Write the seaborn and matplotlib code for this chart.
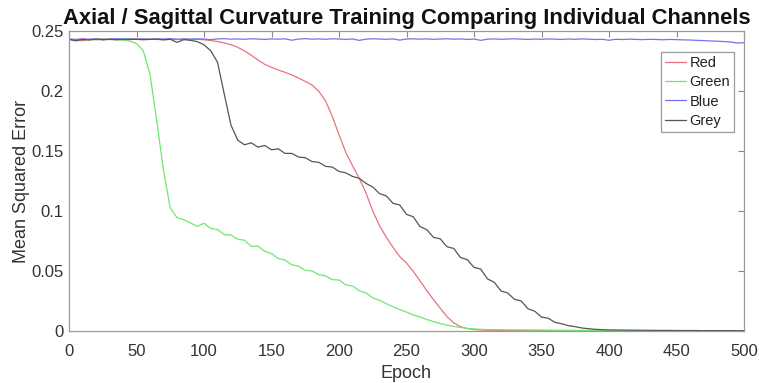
import matplotlib
matplotlib.use("Agg")
import matplotlib.pyplot as plt
import numpy as np
import pandas as pd
import seaborn as sns

# ---------------- data ----------------
epochs = list(range(0, 501, 5))

red = [0.2430, 0.2424, 0.2418, 0.2432, 0.2427, 0.2433, 0.2429, 0.2431, 0.2426, 0.2432,
       0.2430, 0.2428, 0.2433, 0.2430, 0.2427, 0.2431, 0.2429, 0.2432, 0.2430, 0.2431,
       0.2427, 0.2421, 0.2412, 0.2401, 0.2386, 0.2364, 0.2335, 0.2298, 0.2258, 0.2222,
       0.2197, 0.2175, 0.2156, 0.2134, 0.2108, 0.2080, 0.2050, 0.1998, 0.1918, 0.1790,
       0.1635, 0.1490, 0.1378, 0.1272, 0.1150, 0.1000, 0.0878, 0.0782, 0.0698, 0.0620,
       0.0566, 0.0497, 0.0418, 0.0336, 0.0262, 0.0190, 0.0120, 0.0068, 0.0036, 0.0020,
       0.0012, 0.0008, 0.0006, 0.0005, 0.0005, 0.0005, 0.0004, 0.0004, 0.0004, 0.0004,
       0.0004, 0.0003, 0.0003, 0.0003, 0.0003, 0.0003, 0.0003, 0.0003, 0.0003, 0.0003,
       0.0003, 0.0003, 0.0002, 0.0002, 0.0002, 0.0002, 0.0002, 0.0002, 0.0002, 0.0002,
       0.0002, 0.0002, 0.0002, 0.0002, 0.0002, 0.0002, 0.0002, 0.0002, 0.0002, 0.0002,
       0.0002]

green = [0.2428, 0.2422, 0.2432, 0.2426, 0.2431, 0.2424, 0.2430, 0.2427, 0.2425, 0.2416,
         0.2396, 0.2335, 0.2140, 0.1750, 0.1340, 0.1025, 0.0945, 0.0928, 0.0900, 0.0872,
         0.0898, 0.0855, 0.0846, 0.0803, 0.0800, 0.0765, 0.0756, 0.0705, 0.0708, 0.0664,
         0.0646, 0.0604, 0.0592, 0.0552, 0.0540, 0.0506, 0.0500, 0.0470, 0.0460, 0.0428,
         0.0425, 0.0385, 0.0375, 0.0335, 0.0318, 0.0276, 0.0256, 0.0228, 0.0202, 0.0178,
         0.0158, 0.0134, 0.0118, 0.0096, 0.0078, 0.0062, 0.0049, 0.0038, 0.0030, 0.0022,
         0.0017, 0.0014, 0.0012, 0.0011, 0.0010, 0.0010, 0.0009, 0.0009, 0.0008, 0.0008,
         0.0007, 0.0007, 0.0006, 0.0006, 0.0006, 0.0005, 0.0005, 0.0005, 0.0005, 0.0004,
         0.0004, 0.0004, 0.0004, 0.0004, 0.0003, 0.0003, 0.0003, 0.0003, 0.0003, 0.0003,
         0.0003, 0.0003, 0.0002, 0.0002, 0.0002, 0.0002, 0.0002, 0.0002, 0.0002, 0.0002,
         0.0002]

blue = [0.2433, 0.2430, 0.2435, 0.2431, 0.2434, 0.2429, 0.2433, 0.2436, 0.2431, 0.2434,
        0.2432, 0.2435, 0.2430, 0.2434, 0.2433, 0.2436, 0.2431, 0.2434, 0.2432, 0.2435,
        0.2433, 0.2428, 0.2434, 0.2436, 0.2432, 0.2434, 0.2431, 0.2435, 0.2433, 0.2430,
        0.2434, 0.2432, 0.2435, 0.2423, 0.2433, 0.2436, 0.2432, 0.2434, 0.2431, 0.2435,
        0.2433, 0.2430, 0.2434, 0.2422, 0.2432, 0.2435, 0.2433, 0.2431, 0.2434, 0.2424,
        0.2433, 0.2435, 0.2432, 0.2434, 0.2431, 0.2433, 0.2435, 0.2432, 0.2434, 0.2430,
        0.2433, 0.2422, 0.2432, 0.2434, 0.2431, 0.2433, 0.2435, 0.2432, 0.2430, 0.2433,
        0.2431, 0.2434, 0.2432, 0.2430, 0.2433, 0.2431, 0.2434, 0.2432, 0.2429, 0.2431,
        0.2423, 0.2431, 0.2429, 0.2432, 0.2430, 0.2428, 0.2431, 0.2429, 0.2427, 0.2430,
        0.2428, 0.2426, 0.2425, 0.2422, 0.2420, 0.2417, 0.2415, 0.2412, 0.2408, 0.2400,
        0.2402]

grey = [0.2432, 0.2418, 0.2430, 0.2425, 0.2433, 0.2428, 0.2431, 0.2427, 0.2432, 0.2429,
        0.2431, 0.2428, 0.2430, 0.2432, 0.2427, 0.2431, 0.2405, 0.2428, 0.2422, 0.2412,
        0.2385, 0.2335, 0.2240, 0.1975, 0.1715, 0.1590, 0.1552, 0.1568, 0.1532, 0.1546,
        0.1510, 0.1518, 0.1480, 0.1480, 0.1450, 0.1444, 0.1412, 0.1406, 0.1372, 0.1366,
        0.1330, 0.1318, 0.1288, 0.1272, 0.1230, 0.1200, 0.1145, 0.1126, 0.1064, 0.1050,
        0.0972, 0.0952, 0.0870, 0.0845, 0.0780, 0.0768, 0.0702, 0.0688, 0.0612, 0.0595,
        0.0530, 0.0516, 0.0434, 0.0406, 0.0334, 0.0316, 0.0264, 0.0250, 0.0185, 0.0165,
        0.0116, 0.0106, 0.0072, 0.0060, 0.0044, 0.0036, 0.0025, 0.0019, 0.0014, 0.0011,
        0.0009, 0.0008, 0.0008, 0.0007, 0.0007, 0.0006, 0.0006, 0.0005, 0.0005, 0.0005,
        0.0004, 0.0004, 0.0004, 0.0004, 0.0003, 0.0003, 0.0003, 0.0003, 0.0003, 0.0003,
        0.0003]

channels = ["Red", "Green", "Blue", "Grey"]
series = [red, green, blue, grey]
colors = {"Red": "#ec717e", "Green": "#6ee86e", "Blue": "#7373ee", "Grey": "#555555"}

xticks = list(range(0, 501, 50))
yticks = [0, 0.05, 0.1, 0.15, 0.2, 0.25]
ytick_labels = ["0", "0.05", "0.1", "0.15", "0.2", "0.25"]

title = "Axial / Sagittal Curvature Training Comparing Individual Channels"

# ---------------- plot ----------------
sns.set_theme(style="white")
plt.rcParams["font.family"] = ["Liberation Sans", "DejaVu Sans"]

df = pd.concat(
    [pd.DataFrame({"Epoch": epochs, "MSE": v, "Channel": n}) for n, v in zip(channels, series)],
    ignore_index=True,
)

W, H = 759, 383
fig = plt.figure(figsize=(W / 100, H / 100), dpi=100)
ax = fig.add_axes([69 / W, 1 - 331 / H, 675 / W, 300 / H])

sns.lineplot(data=df, x="Epoch", y="MSE", hue="Channel", hue_order=channels,
             palette=colors, linewidth=0.9, ax=ax, legend=True, sort=True)

ax.set_xlim(0, 500)
ax.set_ylim(0, 0.25)
ax.set_xticks(xticks)
ax.set_yticks(yticks)
ax.set_yticklabels(ytick_labels)
ax.tick_params(direction="in", top=True, right=True, length=4, width=0.8,
               color="#8a8a8a", labelsize=12, labelcolor="#333333")
ax.tick_params(axis="x", pad=9)
ax.tick_params(axis="y", pad=4)
for s in ax.spines.values():
    s.set_color("#9a9a9a")
    s.set_linewidth(0.9)

ax.set_xlabel("Epoch", fontsize=13, color="#333333", labelpad=5)
ax.set_ylabel("Mean Squared Error", fontsize=13, color="#333333", labelpad=0.5)
ax.set_title(title, fontsize=15.8, fontweight="bold", color="#111111", pad=5)

leg = ax.legend(loc="upper right", bbox_to_anchor=((734 - 69) / 675, (331 - 52) / 300),
                frameon=True, fancybox=False, framealpha=1, edgecolor="#9a9a9a", fontsize=10.5,
                handlelength=1.45, handletextpad=0.2, labelspacing=0.36,
                borderpad=0.28, borderaxespad=0)
leg.get_frame().set_linewidth(0.9)
for t in leg.get_texts():
    t.set_color("#222222")

fig.savefig("out.png", dpi=100)
